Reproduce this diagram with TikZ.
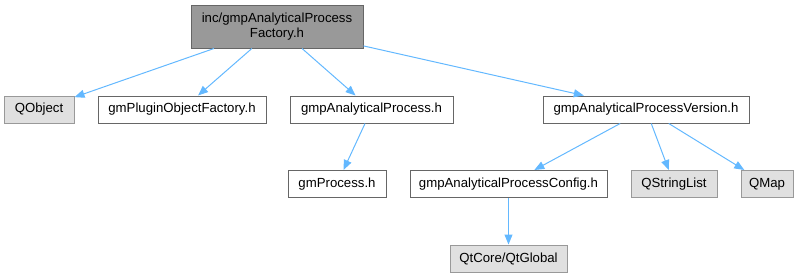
\documentclass[tikz,border=0pt]{standalone}
\usepackage{fontspec}
\setmainfont{Liberation Sans}
\usetikzlibrary{arrows.meta}
\definecolor{edgec}{HTML}{63B8FF}
\definecolor{rootfill}{HTML}{999999}
\definecolor{boxborder}{HTML}{666666}
\definecolor{extfill}{HTML}{E0E0E0}
\definecolor{extborder}{HTML}{999999}
\tikzset{
  base/.style={draw, line width=1pt, inner sep=0pt, font=\fontsize{13.2}{15.5}\selectfont, text=black, align=center, minimum height=27pt},
  rootbox/.style={base, fill=rootfill, draw=boxborder},
  filebox/.style={base, fill=white, draw=boxborder},
  extbox/.style={base, fill=extfill, draw=extborder},
  dep/.style={draw=edgec, line width=1pt, -{Triangle[length=10pt,width=8pt]}, color=edgec}
}
\begin{document}
\begin{tikzpicture}[x=1pt,y=-1pt]
\useasboundingbox (0,0) rectangle (810,277);
\node[rootbox, minimum width=172pt, minimum height=43pt] (root) at (277,26.5) {inc/gmpAnalyticalProcess\\Factory.h};
\node[extbox, minimum width=70pt] (qobject) at (39,109.5) {QObject};
\node[filebox, minimum width=168pt] (plugin) at (182,109.5) {gmPluginObjectFactory.h};
\node[filebox, minimum width=163pt] (ap) at (371.5,109.5) {gmpAnalyticalProcess.h};
\node[filebox, minimum width=206pt] (ver) at (646,109.5) {gmpAnalyticalProcessVersion.h};
\node[filebox, minimum width=98pt] (proc) at (337,184) {gmProcess.h};
\node[filebox, minimum width=197pt] (cfg) at (508.5,184) {gmpAnalyticalProcessConfig.h};
\node[extbox, minimum width=86pt] (qsl) at (674,184) {QStringList};
\node[extbox, minimum width=52pt] (qmap) at (767,184) {QMap};
\node[extbox, minimum width=117pt] (qtg) at (508.5,258.5) {QtCore/QtGlobal};
\draw[dep] (root) -- (qobject);
\draw[dep] (root) -- (plugin);
\draw[dep] (root) -- (ap);
\draw[dep] (root) -- (ver);
\draw[dep] (ap) -- (proc);
\draw[dep] (ver) -- (cfg);
\draw[dep] (ver) -- (qsl);
\draw[dep] (ver) -- (qmap);
\draw[dep] (cfg) -- (qtg);
\end{tikzpicture}
\end{document}
